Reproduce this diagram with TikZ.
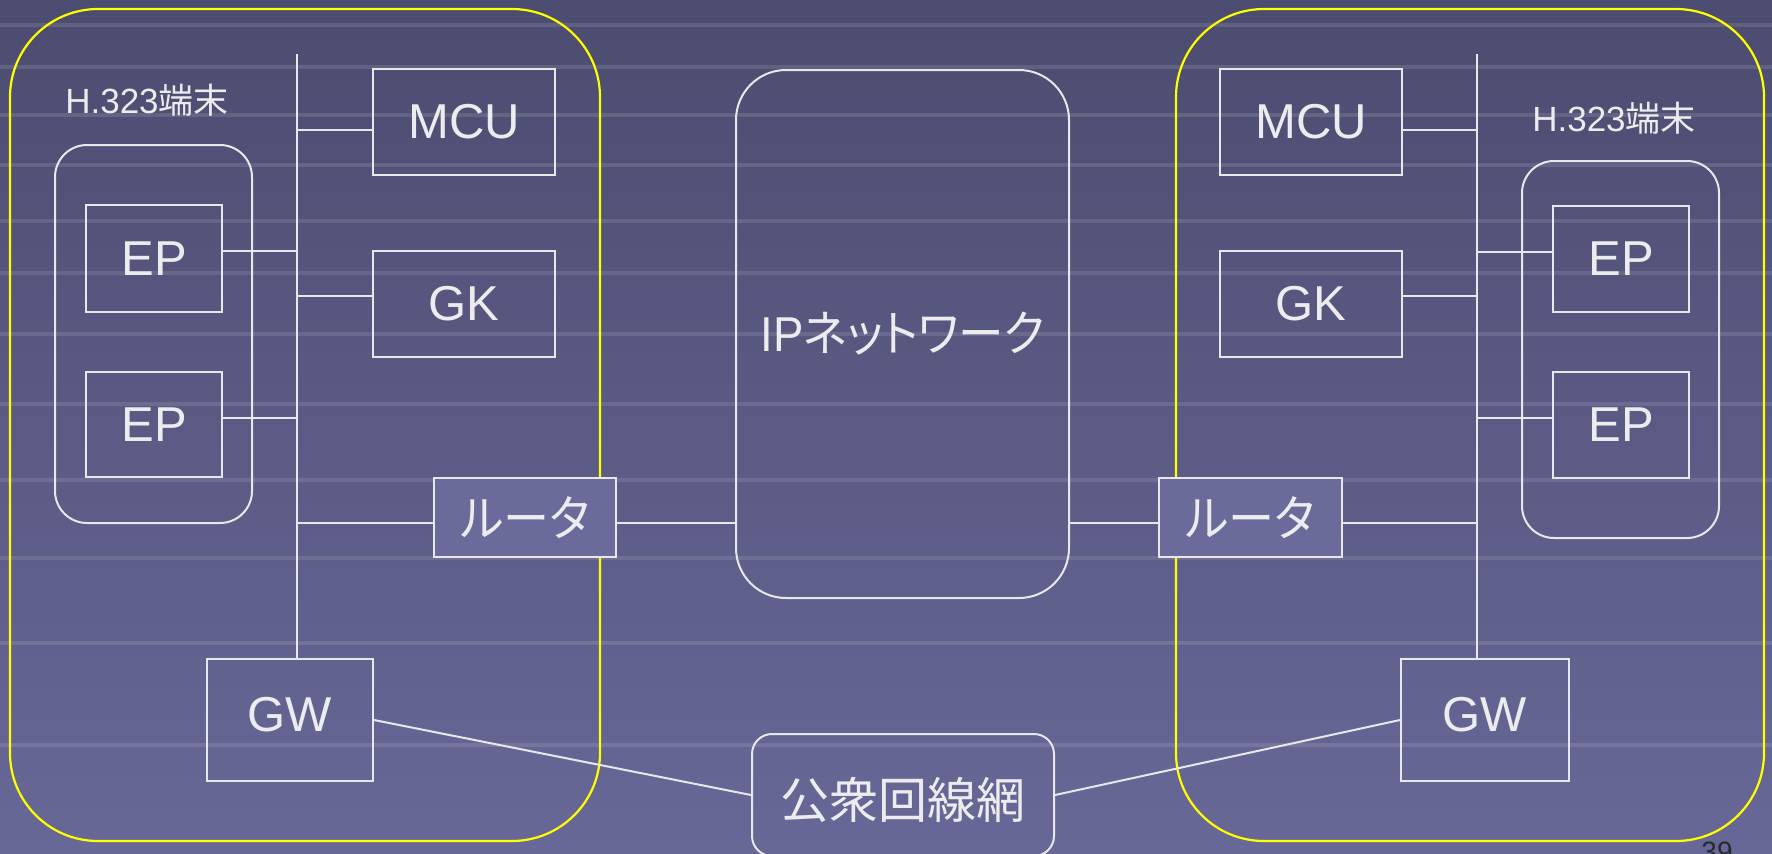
\documentclass[tikz,border=0pt]{standalone}
\usepackage{fontspec}
\setmainfont{Liberation Sans}
\newfontfamily\cjk[RawFeature=+palt]{Noto Sans CJK JP}
\definecolor{bgtop}{RGB}{76,76,112}
\definecolor{bgbot}{RGB}{104,104,152}
\definecolor{lineC}{RGB}{232,232,236}
\definecolor{txtC}{RGB}{236,236,238}
\definecolor{yel}{RGB}{255,255,0}
\definecolor{routerfill}{RGB}{107,107,155}
\definecolor{pagenum}{RGB}{40,40,48}
\tikzset{
  conn/.style={draw=lineC, line width=1pt},
  boxn/.style={draw=lineC, line width=1pt, inner sep=0pt, text=txtC, font=\fontsize{24.5}{28}\selectfont},
  grp/.style={draw=yel, line width=1.1pt, rounded corners=44pt, inner sep=0pt},
  term/.style={draw=lineC, line width=1pt, rounded corners=16pt, inner sep=0pt},
  lbl/.style={text=txtC, font=\fontsize{17.5}{20}\selectfont, inner sep=0pt},
  stripe/.style={draw=white, opacity=0.11, line width=2.2pt},
}
\begin{document}
\begin{tikzpicture}[x=0.5pt,y=-0.5pt]
\useasboundingbox (0,0) rectangle (1772,853);
\clip (0,0) rectangle (1772,853);
\shade[top color=bgtop,bottom color=bgbot] (0,0) rectangle (1772,853);
\foreach \yy in {25,67,115,165,221,273,334,404,480,558,643,745}
  \draw[stripe] (0,\yy) -- (1772,\yy);

% groups
\node[grp, minimum width=295pt, minimum height=416pt] (lgrp) at (305,425) {};
\node[grp, minimum width=294pt, minimum height=416pt] (rgrp) at (1470,425) {};

% terminal groups
\node[term, minimum width=98.5pt, minimum height=189pt] (lterm) at (153.5,334) {};
\node[term, minimum width=98.5pt, minimum height=188.5pt] (rterm) at (1620.5,349.5) {};
\node[lbl] (llbl) at (147,100) {H.323{\cjk 端末}};
\node[lbl] (rlbl) at (1614,118) {H.323{\cjk 端末}};

% left components
\node[boxn, minimum width=91pt, minimum height=53pt] (lmcu) at (464,122) {MCU};
\node[boxn, minimum width=91pt, minimum height=53pt] (lgk) at (464,304) {GK};
\node[boxn, minimum width=68pt, minimum height=53.5pt] (lep1) at (154,258.5) {EP};
\node[boxn, minimum width=68pt, minimum height=52.5pt] (lep2) at (154,424.5) {EP};
\node[boxn, minimum width=91pt, minimum height=39.5pt, fill=routerfill] (lrt) at (525,517.5) {\scalebox{0.94}[1]{\cjk ルータ}};
\node[boxn, minimum width=83pt, minimum height=61pt, text height=17.5pt, text depth=6pt] (lgw) at (290,720) {GW};

% center
\node[boxn, rounded corners=25pt, minimum width=166.5pt, minimum height=264pt] (ip) at (902.5,334) {\scalebox{0.93}[1]{IP{\cjk ネットワーク}}};
\node[boxn, rounded corners=10pt, minimum width=151pt, minimum height=61pt, text height=24pt, text depth=0.4pt] (pub) at (903,795) {{\cjk 公衆回線網}};

% right components
\node[boxn, minimum width=91pt, minimum height=53pt] (rmcu) at (1311,122) {MCU};
\node[boxn, minimum width=91pt, minimum height=53pt] (rgk) at (1311,304) {GK};
\node[boxn, minimum width=68pt, minimum height=53pt] (rep1) at (1621,259) {EP};
\node[boxn, minimum width=68pt, minimum height=53pt] (rep2) at (1621,425) {EP};
\node[boxn, minimum width=91.5pt, minimum height=39.5pt, fill=routerfill] (rrt) at (1250.5,517.5) {\scalebox{0.94}[1]{\cjk ルータ}};
\node[boxn, minimum width=84pt, minimum height=61pt, text height=17.5pt, text depth=6pt] (rgw) at (1485,720) {GW};

% left bus
\coordinate (lbtop) at (297,54);
\coordinate (lbm) at (297,130);
\coordinate (lbe1) at (297,251);
\coordinate (lbg) at (297,296);
\coordinate (lbe2) at (297,418);
\coordinate (lbr) at (297,523);
\draw[conn] (lbtop) -- (lbtop |- lgw.north);
\draw[conn] (lbm) -- (lbm -| lmcu.west);
\draw[conn] (lbg) -- (lbg -| lgk.west);
\draw[conn] (lbe1) -- (lbe1 -| lep1.east);
\draw[conn] (lbe2) -- (lbe2 -| lep2.east);
\draw[conn] (lbr) -- (lbr -| lrt.west);
\draw[conn] (lbr -| lrt.east) -- (lbr -| ip.west);
\draw[conn] (lgw.east) -- (pub.west);

% right bus
\coordinate (rbtop) at (1477,54);
\coordinate (rbm) at (1477,130);
\coordinate (rbe1) at (1477,252);
\coordinate (rbg) at (1477,296);
\coordinate (rbe2) at (1477,418);
\coordinate (rbr) at (1477,523);
\draw[conn] (rbtop) -- (rbtop |- rgw.north);
\draw[conn] (rbm) -- (rbm -| rmcu.east);
\draw[conn] (rbg) -- (rbg -| rgk.east);
\draw[conn] (rbe1) -- (rbe1 -| rep1.west);
\draw[conn] (rbe2) -- (rbe2 -| rep2.west);
\draw[conn] (rbr) -- (rbr -| rrt.east);
\draw[conn] (rbr -| rrt.west) -- (rbr -| ip.east);
\draw[conn] (rgw.west) -- (pub.east);

% page number (cut off at the bottom edge, as in the reference)
\node[text=pagenum, font=\fontsize{14}{16}\selectfont, anchor=north, inner sep=0pt] (pnum) at (1717,842) {39};
\end{tikzpicture}
\end{document}
